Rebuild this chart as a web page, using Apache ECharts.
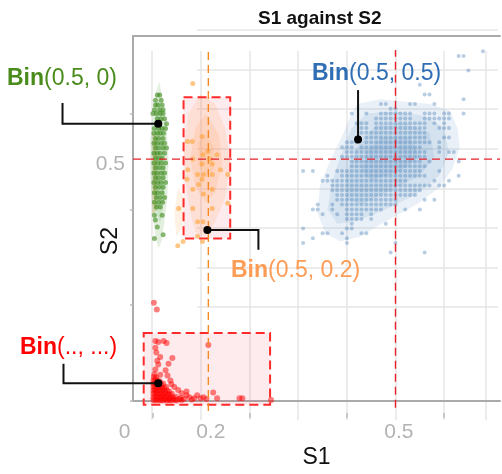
<!DOCTYPE html>
<html>
<head>
<meta charset="utf-8">
<script src="https://cdn.jsdelivr.net/npm/echarts@6/dist/echarts.min.js"></script>
<style>
	html, body { margin: 0; padding: 0; background: #fff; }
	#chart { width: 502px; height: 474px; }
</style>
</head>
<body>
<div id="chart"></div>
<script>
// ---- axis ticks / labels ----
const s1Ticks = [0, 0.2, 0.4, 0.6]
const s2Ticks = [0, 0.2, 0.4, 0.6]
const s1LabelAt = [-0.04, 0.12, 0.507]
const s1LabelText = ['0', '0.2', '0.5']
const s2LabelAt = [0.495]
const s2LabelText = ['0.5']

// ---- Bin(0.5, 0.5): lattice of points, [S2, [S1 ...]] in hundredths ----
const blueRows = [
	[73, [68]],
	[72, [63, 64]],
	[69, [65]],
	[66, [55]],
	[64, [56, 57]],
	[63, [64]],
	[62, [47, 48, 53, 54, 58]],
	[61, [49, 50]],
	[60, [41, 44, 47, 48, 49, 50, 51, 52, 53, 56, 57, 58, 60, 61, 64]],
	[59, [46, 47, 48, 49, 50, 51, 52, 53, 56, 57, 58, 59, 60, 61]],
	[58, [42, 43, 44, 46, 47, 48, 49, 50, 51, 52, 53, 54, 55, 56, 58, 60]],
	[57, [43, 44, 46, 47, 48, 49, 50, 51, 52, 53, 54, 55, 56, 59, 60, 61]],
	[56, [43, 44, 45, 46, 47, 48, 49, 50, 51, 52, 53, 54, 55, 56]],
	[55, [44, 45, 46, 47, 48, 49, 50, 51, 52, 53, 54, 55, 56, 60, 61]],
	[54, [40, 41, 42, 44, 45, 46, 47, 48, 49, 50, 51, 52, 53, 54, 55, 56, 57, 59]],
	[53, [39, 40, 41, 43, 44, 45, 46, 47, 48, 49, 50, 51, 52, 53, 54, 55, 59]],
	[52, [40, 41, 42, 43, 44, 45, 46, 47, 48, 49, 50, 51, 52, 53, 54, 55, 56, 59, 61, 62]],
	[51, [39, 40, 41, 42, 43, 44, 45, 46, 47, 48, 49, 50, 51, 52, 53, 54, 55, 56]],
	[50, [41, 42, 43, 44, 45, 46, 47, 48, 49, 50, 51, 52, 53, 54, 55, 57, 63]],
	[49, [41, 42, 43, 44, 45, 46, 47, 48, 49, 50, 51, 52, 53, 54, 55, 56]],
	[48, [31, 33, 38, 39, 40, 41, 42, 43, 44, 45, 46, 47, 48, 49, 50, 51, 52, 53, 54, 55, 59]],
	[47, [36, 39, 40, 41, 42, 43, 44, 45, 46, 47, 48, 49, 50, 51, 52, 53, 54, 55, 56, 63]],
	[46, [35, 36, 37, 38, 39, 40, 41, 42, 43, 44, 45, 46, 47, 48, 49, 50, 51, 52, 58, 61]],
	[45, [37, 38, 39, 40, 41, 42, 43, 44, 45, 46, 47, 48, 49, 50, 51, 52, 53, 54, 55, 56, 57, 59, 60]],
	[44, [37, 38, 39, 40, 41, 42, 43, 44, 45, 46, 47, 48, 49, 50, 51, 52, 53, 54, 55]],
	[43, [38, 39, 40, 41, 42, 43, 44, 45, 46, 47, 48, 49, 50, 51, 52, 53, 54]],
	[42, [38, 39, 40, 41, 42, 43, 44, 45, 46, 47, 48, 49, 50, 56, 58]],
	[41, [34, 37, 39, 40, 41, 42, 43, 44, 45, 46, 47, 48, 49, 50]],
	[40, [33, 34, 37, 40, 41, 42, 43, 44, 45, 46, 47, 52, 55]],
	[39, [35, 38, 40, 41, 42, 43, 45]],
	[38, [40, 41, 42, 43, 45]],
	[37, [41, 48]],
	[36, [31, 40, 41]],
	[35, [35, 36, 39, 43, 44]],
	[34, [33, 40]],
	[33, [31, 40, 50]],
	[31, [49, 56]],
]

// ---- Bin(0.5, 0): [S2, [S1 ...]] ----
const greenRows = [
	[0.639, [0.010, 0.015]],
	[0.628, [0.006, 0.018]],
	[0.618, [0.006, 0.011, 0.020]],
	[0.608, [0.004, 0.015, 0.022]],
	[0.600, [0.001, 0.008, 0.016, 0.022]],
	[0.589, [0.010, 0.018, 0.025]],
	[0.579, [0.008, 0.029]],
	[0.569, [0.004, 0.013, 0.020, 0.027]],
	[0.559, [0.003, 0.010, 0.016, 0.023]],
	[0.548, [0.006, 0.013, 0.022]],
	[0.538, [0.003, 0.010, 0.018, 0.025]],
	[0.528, [0.006, 0.013, 0.022, 0.029]],
	[0.517, [0.003, 0.010, 0.016, 0.025]],
	[0.507, [0.006, 0.013, 0.020]],
	[0.497, [0.003, 0.011, 0.018, 0.027]],
	[0.487, [0.006, 0.014, 0.022]],
	[0.476, [0.003, 0.010, 0.018, 0.025]],
	[0.466, [0.006, 0.013, 0.022]],
	[0.456, [0.003, 0.011, 0.018, 0.027]],
	[0.446, [0.006, 0.014, 0.022]],
	[0.435, [0.004, 0.011, 0.020]],
	[0.425, [0.008, 0.016, 0.025]],
	[0.415, [0.004, 0.013, 0.021]],
	[0.405, [0.008, 0.016]],
	[0.388, [0.004, 0.020]],
	[0.378, [0.006]],
	[0.363, [0.010]],
	[0.347, [0.022]],
	[0.339, [0.004]],
]

// ---- Bin(0.5, 0.2): [S1, S2] ----
const orangePoints = [
	[0.083, 0.663], [0.072, 0.542], [0.082, 0.542], [0.102, 0.552], [0.114, 0.521],
	[0.104, 0.514], [0.133, 0.514], [0.083, 0.505], [0.118, 0.505], [0.102, 0.495],
	[0.123, 0.495], [0.073, 0.483], [0.140, 0.483], [0.093, 0.473], [0.105, 0.473],
	[0.123, 0.473], [0.155, 0.473], [0.071, 0.463], [0.102, 0.463], [0.095, 0.452],
	[0.083, 0.442], [0.123, 0.442], [0.105, 0.432], [0.155, 0.413], [0.054, 0.402],
	[0.083, 0.402], [0.123, 0.402], [0.093, 0.374], [0.104, 0.374], [0.093, 0.344],
	[0.063, 0.333], [0.052, 0.324], [0.103, 0.333],
]

// ---- Bin(.., ...): [S1, S2] ----
const redPoints = [
	[0.002, 0.002], [0.006, 0.001], [0.010, 0.003], [0.014, 0.001], [0.018, 0.002], [0.022, 0.001],
	[0.026, 0.003], [0.030, 0.001], [0.034, 0.002], [0.038, 0.001], [0.042, 0.003], [0.046, 0.002],
	[0.050, 0.001], [0.055, 0.004], [0.060, 0.002],
	[0.002, 0.008], [0.006, 0.010], [0.010, 0.007], [0.014, 0.009], [0.018, 0.008], [0.022, 0.010],
	[0.026, 0.007], [0.030, 0.009], [0.034, 0.006], [0.038, 0.008], [0.043, 0.007], [0.048, 0.009],
	[0.002, 0.015], [0.006, 0.017], [0.010, 0.014], [0.014, 0.016], [0.018, 0.015], [0.022, 0.013],
	[0.027, 0.016], [0.031, 0.014], [0.036, 0.013], [0.040, 0.015],
	[0.002, 0.022], [0.005, 0.024], [0.009, 0.021], [0.013, 0.023], [0.017, 0.022], [0.021, 0.024],
	[0.025, 0.020], [0.030, 0.022], [0.034, 0.020],
	[0.002, 0.029], [0.006, 0.031], [0.010, 0.028], [0.014, 0.030], [0.019, 0.028], [0.024, 0.027],
	[0.028, 0.029], [0.002, 0.036], [0.005, 0.038], [0.009, 0.035], [0.013, 0.037], [0.018, 0.034],
	[0.022, 0.036], [0.002, 0.043], [0.006, 0.045], [0.010, 0.042], [0.015, 0.041], [0.003, 0.050],
	[0.008, 0.049], [0.004, 0.056],
	[0.003, 0.205], [0.009, 0.191], [0.006, 0.125], [0.012, 0.123], [0.023, 0.125], [0.029, 0.121],
	[0.006, 0.111], [0.008, 0.101], [0.016, 0.092], [0.041, 0.090], [0.010, 0.084], [0.033, 0.078],
	[0.012, 0.076], [0.006, 0.066], [0.027, 0.064], [0.016, 0.055], [0.031, 0.053], [0.037, 0.043],
	[0.039, 0.035], [0.115, 0.117], [0.045, 0.029], [0.053, 0.023], [0.060, 0.016], [0.070, 0.012],
	[0.076, 0.008], [0.086, 0.006], [0.092, 0.012], [0.099, 0.006], [0.105, 0.008], [0.111, 0.004],
	[0.125, 0.018], [0.133, 0.006], [0.179, 0.006], [0.185, 0.006], [0.244, 0.002],
	[0.058, 0.006], [0.065, 0.004], [0.081, 0.003], [0.070, 0.020],
]

// ---- density contours, outer to inner ----
const blueContours = [
	[[0.421, 0.620], [0.468, 0.630], [0.524, 0.624], [0.571, 0.620], [0.612, 0.606], [0.628, 0.569],
	 [0.632, 0.528], [0.616, 0.483], [0.591, 0.446], [0.544, 0.411], [0.503, 0.388], [0.468, 0.368],
	 [0.427, 0.343], [0.386, 0.333], [0.355, 0.351], [0.339, 0.394], [0.345, 0.450], [0.366, 0.503],
	 [0.390, 0.552], [0.407, 0.593]],
	[[0.44, 0.60], [0.50, 0.605], [0.56, 0.595], [0.60, 0.57], [0.61, 0.52], [0.59, 0.47], [0.54, 0.43],
	 [0.48, 0.40], [0.42, 0.375], [0.38, 0.37], [0.36, 0.40], [0.37, 0.46], [0.39, 0.52], [0.41, 0.57]],
	[[0.46, 0.575], [0.52, 0.58], [0.57, 0.56], [0.58, 0.51], [0.55, 0.47], [0.49, 0.44], [0.43, 0.41],
	 [0.40, 0.42], [0.40, 0.47], [0.42, 0.53]],
	[[0.47, 0.55], [0.53, 0.55], [0.55, 0.51], [0.51, 0.48], [0.45, 0.46], [0.43, 0.48], [0.44, 0.52]],
]
const greenContours = [
	[[0.0144, 0.667], [0.0205, 0.630], [0.0287, 0.579], [0.0329, 0.507], [0.0308, 0.425], [0.0246, 0.374],
	 [0.0185, 0.333], [0.0123, 0.318], [0.0062, 0.343], [0.0, 0.394], [-0.0041, 0.466], [-0.0041, 0.548],
	 [0.0021, 0.610], [0.0082, 0.647]],
	[[0.013, 0.63], [0.022, 0.57], [0.026, 0.50], [0.024, 0.42], [0.016, 0.37], [0.006, 0.40],
	 [0.002, 0.47], [0.003, 0.55], [0.007, 0.61]],
]
const oliveContours = [
	[[0.0, 0.56], [0.009, 0.55], [0.010, 0.40], [0.0, 0.39]],
]
const orangeContours = [
	[[0.099, 0.641], [0.129, 0.620], [0.150, 0.569], [0.160, 0.497], [0.150, 0.425], [0.129, 0.374],
	 [0.109, 0.343], [0.088, 0.353], [0.078, 0.394], [0.068, 0.456], [0.064, 0.528], [0.074, 0.600]],
	[[0.109, 0.600], [0.136, 0.559], [0.144, 0.497], [0.129, 0.435], [0.109, 0.415], [0.088, 0.446],
	 [0.078, 0.507], [0.088, 0.569]],
	[[0.109, 0.559], [0.127, 0.528], [0.127, 0.487], [0.109, 0.466], [0.094, 0.497], [0.094, 0.538]],
	[[0.053, 0.446], [0.064, 0.425], [0.062, 0.363], [0.049, 0.343], [0.045, 0.394]],
]

// ---- dashed boxes [S1 from, S2 from, S1 to, S2 to] ----
const boxes = [
	[0.064, 0.634, 0.160, 0.339],
	[-0.018, 0.142, 0.242, -0.008],
]

// ---- reference lines ----
const refRedV = [[0.5, -0.014], [0.5, 0.733]]
const refOrangeV = [[0.115, -0.021], [0.115, 0.733]]
const refRedH = [[-0.04, 0.505], [0.715, 0.505]]

// ---- annotation leaders (last point = anchor) ----
const leaders = [
	[[-0.185, 0.622], [-0.185, 0.579], [0.012, 0.579]],
	[[0.423, 0.649], [0.423, 0.546]],
	[[0.218, 0.316], [0.218, 0.357], [0.113, 0.357]],
	[[-0.183, 0.078], [-0.183, 0.037], [0.012, 0.037]],
]

const blueData = blueRows.flatMap(([j, ks]) => ks.map((k) => [k / 100, j / 100]))
const greenData = greenRows.flatMap(([y, xs]) => xs.map((x) => [x, y]))

const FONT = 'Liberation Sans'

function nearestText(pos, text) {
	return function (v) {
		let best = 0
		pos.forEach((p, i) => {
			if (Math.abs(p - v) < Math.abs(pos[best] - v)) best = i
		})
		return best === 0 && text === s1LabelText ? '{z|' + text[best] + '}' : text[best]
	}
}

function polySeries(polys, color) {
	return {
		type: 'custom',
		silent: true,
		clip: false,
		z: 1,
		data: polys.map((p) => p[0]),
		renderItem: function (params, api) {
			return {
				type: 'polygon',
				shape: { points: polys[params.dataIndex].map((p) => api.coord(p)) },
				style: { fill: color },
			}
		},
	}
}

function dashLine(data, color) {
	return {
		type: 'line',
		data: data,
		symbol: 'none',
		clip: false,
		silent: true,
		z: 5,
		lineStyle: { color: color, width: 1.4, type: [8, 5] },
	}
}

const chart = echarts.init(document.getElementById('chart'))

const series = [
	polySeries(blueContours, 'rgba(70,130,190,0.12)'),
	polySeries(greenContours, 'rgba(80,160,60,0.16)'),
	polySeries(oliveContours, 'rgba(170,140,30,0.3)'),
	polySeries(orangeContours, 'rgba(255,170,90,0.16)'),
	{
		type: 'custom',
		silent: true,
		clip: false,
		z: 2,
		data: boxes,
		renderItem: function (params, api) {
			const a = api.coord([api.value(0), api.value(1)])
			const b = api.coord([api.value(2), api.value(3)])
			return {
				type: 'rect',
				shape: {
					x: Math.min(a[0], b[0]),
					y: Math.min(a[1], b[1]),
					width: Math.abs(b[0] - a[0]),
					height: Math.abs(b[1] - a[1]),
				},
				style: { fill: 'rgba(250,60,80,0.1)', stroke: '#ff2a2a', lineWidth: 2, lineDash: [9, 5] },
			}
		},
	},
	{
		type: 'scatter', data: greenData, symbolSize: 5, z: 3, silent: true,
		itemStyle: { color: '#3c8a1a', opacity: 0.6 },
	},
	{
		type: 'scatter', data: orangePoints, symbolSize: 5, z: 3, silent: true,
		itemStyle: { color: '#ffa235', opacity: 0.6 },
	},
	{
		type: 'scatter', data: blueData, symbolSize: 4, z: 3, silent: true,
		itemStyle: { color: '#4a7fb5', opacity: 0.38 },
	},
	{
		type: 'scatter', data: redPoints, symbolSize: 6, z: 3, silent: true,
		itemStyle: { color: '#ff0000', opacity: 0.5 },
	},
	dashLine(refRedV, '#e8202a'),
	dashLine(refOrangeV, '#f5891f'),
	dashLine(refRedH, '#e8202a'),
	// leader lines with their anchor dot
	{
		type: 'custom',
		silent: true,
		clip: false,
		z: 6,
		data: leaders.map((pts) => pts[pts.length - 1]),
		renderItem: function (params, api) {
			const pts = leaders[params.dataIndex].map((p) => api.coord(p))
			const end = pts[pts.length - 1]
			return {
				type: 'group',
				children: [
					{ type: 'polyline', shape: { points: pts }, style: { stroke: '#111', lineWidth: 2, fill: null } },
					{ type: 'circle', shape: { cx: end[0], cy: end[1], r: 4 }, style: { fill: '#000' } },
				],
			}
		},
	},
]

function binLabel(x, y, args, color) {
	return {
		type: 'text', x: x, y: y, z: 10,
		style: {
			text: '{b|Bin}' + args,
			fill: color,
			font: '23px "' + FONT + '"',
			textVerticalAlign: 'middle',
			rich: { b: { fontWeight: 'bold', fontSize: 23, fontFamily: FONT, fill: color } },
		},
	}
}

chart.setOption({
	animation: false,
	title: {
		text: 'S1 against S2',
		left: 253,
		top: 4,
		textStyle: { fontFamily: FONT, fontSize: 19, fontWeight: 'bold', color: '#111' },
	},
	grid: [
		{ left: 133, right: 2, top: 36, bottom: 67 },
		{ left: 152, right: 16, top: 51, bottom: 54 },
		{ left: 197, right: 4, top: 30, bottom: 167 },
	],
	xAxis: [
		{
			type: 'value', gridIndex: 0, min: -0.04, max: 0.715,
			name: 'S1', nameLocation: 'middle', nameGap: 45, nameMoveOverlap: false,
			nameTextStyle: { fontFamily: FONT, fontSize: 23, color: '#111' },
			axisLine: { onZero: false, lineStyle: { color: '#aaaaaa', width: 2 } },
			axisTick: { show: false },
			splitLine: { show: false },
			axisLabel: {
				customValues: s1LabelAt,
				formatter: nearestText(s1LabelAt, s1LabelText),
				margin: 21, fontFamily: FONT, fontSize: 21, color: '#b3b3b3',
				rich: { z: { padding: [0, 17, 0, 0], fontFamily: FONT, fontSize: 21, color: '#b3b3b3' } },
			},
		},
		{
			type: 'value', gridIndex: 0, min: -0.04, max: 0.715, position: 'top',
			axisLine: { onZero: false, lineStyle: { color: '#aaaaaa', width: 2 } },
			axisTick: { show: false }, axisLabel: { show: false }, splitLine: { show: false },
		},
		{
			type: 'value', gridIndex: 0, min: -0.04, max: 0.715, position: 'bottom', offset: 12,
			axisLine: { show: false, onZero: false },
			axisTick: { customValues: s1Ticks, length: 5, lineStyle: { color: '#bbbbbb', width: 1.5 } },
			axisLabel: { show: false }, splitLine: { show: false },
		},
		{
			type: 'value', gridIndex: 1, min: 0, max: 0.686, interval: 0.1,
			axisLine: { show: false }, axisTick: { show: false }, axisLabel: { show: false },
			splitLine: { show: true, lineStyle: { color: '#e6e6e6', width: 1.5 } },
		},
		{
			type: 'value', gridIndex: 2, min: 0, max: 1, show: false,
		},
	],
	yAxis: [
		{
			type: 'value', gridIndex: 0, min: 0, max: 0.762,
			name: 'S2', nameLocation: 'middle', nameGap: 11, nameMoveOverlap: false,
			nameTextStyle: { fontFamily: FONT, fontSize: 23, color: '#111', padding: [0, 45, 0, 0] },
			axisLine: { onZero: false, lineStyle: { color: '#aaaaaa', width: 2 } },
			axisTick: { customValues: s2Ticks, length: 3, lineStyle: { color: '#bbbbbb', width: 1.5 } },
			splitLine: { show: false },
			axisLabel: {
				customValues: s2LabelAt,
				formatter: nearestText(s2LabelAt, s2LabelText),
				margin: 8, fontFamily: FONT, fontSize: 21, color: '#b3b3b3',
			},
		},
		{
			type: 'value', gridIndex: 1, min: 0, max: 1, show: false,
		},
		{
			type: 'value', gridIndex: 2, min: 0, max: 7, interval: 1,
			axisLine: { show: false }, axisTick: { show: false }, axisLabel: { show: false },
			splitLine: { show: true, lineStyle: { color: '#e6e6e6', width: 1.5 } },
		},
	],
	graphic: [
		binLabel(7, 79, '(0.5, 0)', '#4a8c1c'),
		binLabel(312, 74, '(0.5, 0.5)', '#2f6db5'),
		binLabel(231, 271, '(0.5, 0.2)', '#fd9c55'),
		binLabel(20, 348, '(.., ...)', '#ff0000'),
	],
	series: series,
})
</script>
</body>
</html>
